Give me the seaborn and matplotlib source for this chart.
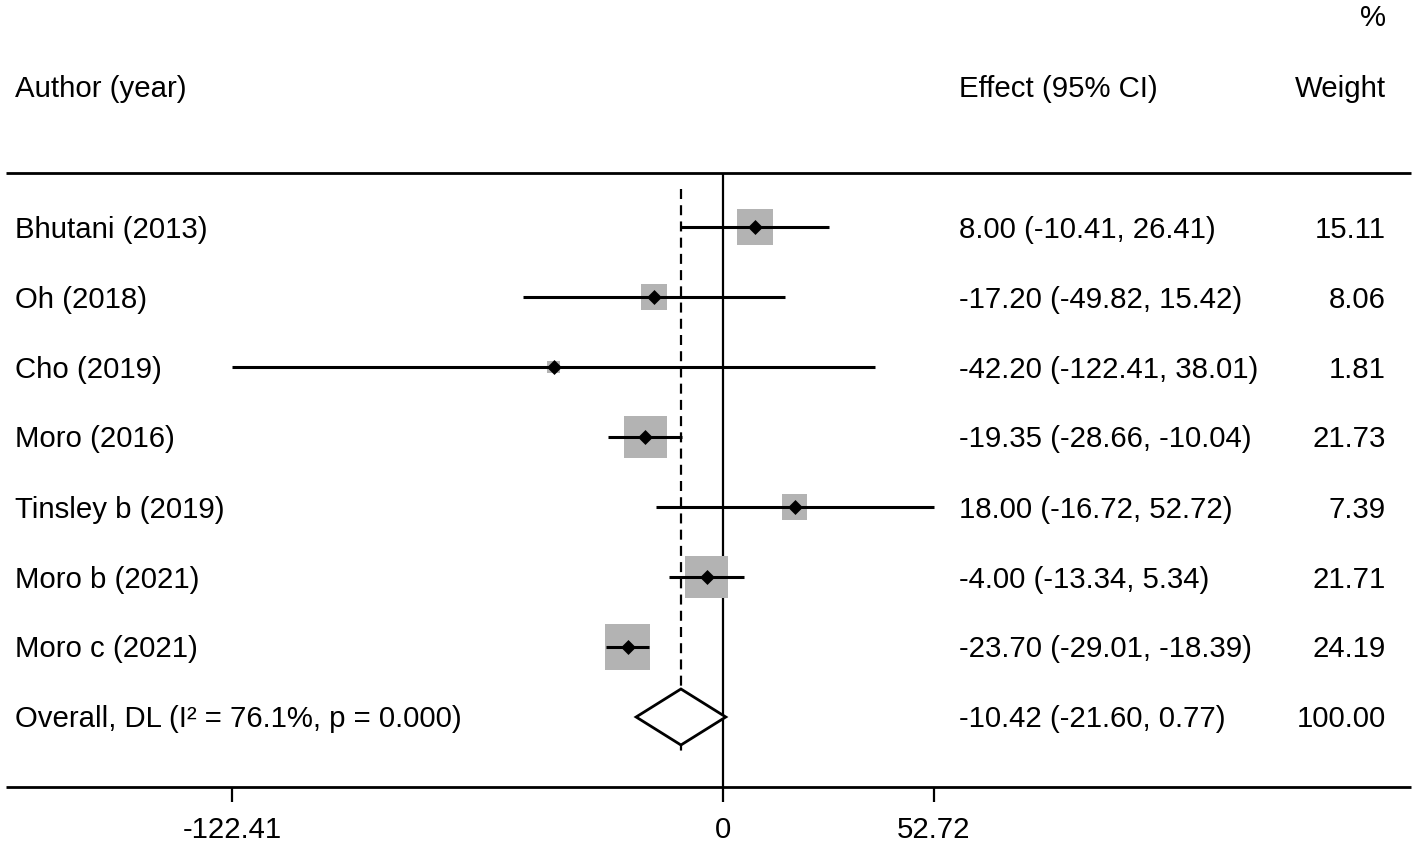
import matplotlib
matplotlib.use("Agg")
import matplotlib.pyplot as plt
import seaborn as sns
import numpy as np
import pandas as pd

# ---- data ----
studies = ["Bhutani (2013)", "Oh (2018)", "Cho (2019)", "Moro (2016)",
           "Tinsley b (2019)", "Moro b (2021)", "Moro c (2021)"]
effects = [8.00, -17.20, -42.20, -19.35, 18.00, -4.00, -23.70]
lower = [-10.41, -49.82, -122.41, -28.66, -16.72, -13.34, -29.01]
upper = [26.41, 15.42, 38.01, -10.04, 52.72, 5.34, -18.39]
weights = [15.11, 8.06, 1.81, 21.73, 7.39, 21.71, 24.19]
overall_label = "Overall, DL (I\u00b2 = 76.1%, p = 0.000)"
overall_effect = -10.42
overall_lower = -21.60
overall_upper = 0.77
overall_weight = 100.00
tick_values = [-122.41, 0, 52.72]
tick_labels = ["-122.41", "0", "52.72"]

# ---- figure setup ----
W, H = 1418, 845
sns.set_style("white")
plt.rcParams["font.family"] = ["Liberation Sans", "DejaVu Sans"]
plt.rcParams["text.color"] = "black"
fig = plt.figure(figsize=(W / 100, H / 100), dpi=100)
ax = fig.add_axes([0, 0, 1, 1])
ax.set_axis_off()

# pixel mapping: x_px = X0 + SX * value ; y_px = Y0 + SY * row
X0, SX = 722.7, 4.008
Y0, SY = 228.0, 70.0
ax.set_xlim(-X0 / SX, (W - X0) / SX)
ax.set_ylim((H - Y0) / SY, -Y0 / SY)

def px2x(p):
    return (p - X0) / SX

def px2y(p):
    return (p - Y0) / SY

FS = 21.2
TDY = 1.5 / SY  # small text offset
n = len(studies)
rows = np.arange(n)
df = pd.DataFrame({"study": studies, "effect": effects, "lower": lower,
                   "upper": upper, "weight": weights, "row": rows})

# frame lines
ax.hlines([px2y(174), px2y(788)], px2x(6), px2x(1411), color="black", lw=2.0)
ax.vlines(0, px2y(174), px2y(788), color="black", lw=1.6)
ax.vlines(overall_effect, px2y(190), px2y(754), color="black", lw=1.6,
          linestyles=(0, (4.5, 2.8)))

# weight boxes (side proportional to sqrt(weight))
side_pt = 9.2 * np.sqrt(df["weight"].to_numpy()) * 0.72
sns.scatterplot(data=df, x="effect", y="row", marker="s", s=side_pt ** 2,
                color="#b3b3b3", linewidth=0, ax=ax, zorder=2, legend=False)
# CI lines
ax.hlines(df["row"], df["lower"], df["upper"], color="black", lw=2.2, zorder=3)
# point estimates
sns.scatterplot(data=df, x="effect", y="row", marker="D", s=58,
                color="black", linewidth=0, ax=ax, zorder=4, legend=False)

# overall diamond
oy = n
hh = 28 / SY
ax.fill([overall_lower, overall_effect, overall_upper, overall_effect],
        [oy, oy - hh, oy, oy + hh], facecolor="white", edgecolor="black",
        lw=2.0, zorder=3)

# x ticks
ax.vlines(tick_values, px2y(788), px2y(803), color="black", lw=1.6)
for tv, tl in zip(tick_values, tick_labels):
    ax.text(tv, px2y(830), tl, ha="center", va="center", fontsize=FS)

# headers
ax.text(px2x(15), px2y(89), "Author (year)", ha="left", va="center", fontsize=FS)
ax.text(px2x(959), px2y(89), "Effect (95% CI)", ha="left", va="center", fontsize=FS)
ax.text(px2x(1386), px2y(89), "Weight", ha="right", va="center", fontsize=FS)
ax.text(px2x(1386), px2y(18), "%", ha="right", va="center", fontsize=FS)

# row texts
for i, r in df.iterrows():
    y = r["row"] + TDY
    ax.text(px2x(15), y, r["study"], ha="left", va="center", fontsize=FS)
    ax.text(px2x(959), y,
            f"{r['effect']:.2f} ({r['lower']:.2f}, {r['upper']:.2f})",
            ha="left", va="center", fontsize=FS)
    ax.text(px2x(1386), y, f"{r['weight']:.2f}", ha="right",
            va="center", fontsize=FS)

ax.text(px2x(15), oy + TDY, overall_label, ha="left", va="center", fontsize=FS)
ax.text(px2x(959), oy + TDY,
        f"{overall_effect:.2f} ({overall_lower:.2f}, {overall_upper:.2f})",
        ha="left", va="center", fontsize=FS)
ax.text(px2x(1386), oy + TDY, f"{overall_weight:.2f}", ha="right", va="center",
        fontsize=FS)

fig.savefig("out.png", dpi=100, facecolor="white")
